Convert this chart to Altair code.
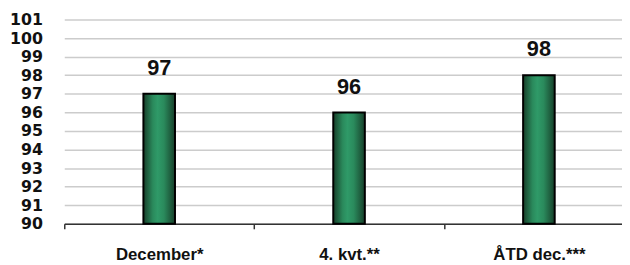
import altair as alt
import pandas as pd

categories = ["December*", "4. kvt.**", "ÅTD dec.***"]
values = [97, 96, 98]
y_ticks = list(range(90, 102))

df = pd.DataFrame({"cat": categories, "val": values})

grad = alt.Gradient(
    gradient="linear", x1=0, x2=1, y1=0, y2=0,
    stops=[
        alt.GradientStop(color="#173f2a", offset=0),
        alt.GradientStop(color="#2a8a5c", offset=0.3),
        alt.GradientStop(color="#2f9a68", offset=0.45),
        alt.GradientStop(color="#2a8a5c", offset=0.65),
        alt.GradientStop(color="#173f2a", offset=1),
    ],
)

x = alt.X("cat:N", sort=categories, title=None,
          scale=alt.Scale(range=[0, 577], paddingInner=0, paddingOuter=0),
          axis=alt.Axis(labelAngle=0, labelFont="Liberation Sans", labelFontWeight="bold",
                        labelFontSize=17, labelColor="#111", labelPadding=18,
                        labelOverlap=False,
                        domainColor="#333", domainWidth=1.5, tickBand="extent",
                        tickColor="#333", tickWidth=1.5, tickSize=5, grid=False))
y = alt.Y("val:Q", title=None,
          scale=alt.Scale(domain=[90, 101], zero=False, nice=False),
          axis=alt.Axis(values=y_ticks, tickCount=12, labelOverlap=False,
                        labelFont="DejaVu Sans", labelFontWeight="bold",
                        labelFontSize=16, labelColor="#111", labelPadding=22,
                        domain=False, ticks=False, gridColor="#cccccc", gridWidth=1.5))

bars = alt.Chart(df).mark_bar(width=32, color=grad, stroke="#000", strokeWidth=2).encode(
    x=x, y=y, y2=alt.datum(90)
)
labels = alt.Chart(df).mark_text(font="Liberation Sans", fontWeight="bold", fontSize=22,
                                 baseline="bottom", dy=-14, color="#111").encode(
    x=alt.X("cat:N", sort=categories), y="val:Q", text="val:Q"
)

chart = (bars + labels).properties(
    width=565, height=207,
    autosize=alt.AutoSizeParams(type="none"),
    padding={"left": 57, "top": 10, "right": 0, "bottom": 40},
).configure_view(stroke=None)

chart.save("out.html", embed_options={"renderer": "svg", "actions": False})
